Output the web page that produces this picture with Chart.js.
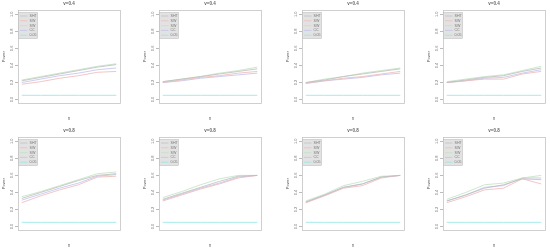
<!DOCTYPE html>
<html><head><meta charset="utf-8">
<script src="https://cdn.jsdelivr.net/npm/chart.js@4"></script>
<style>
html,body{margin:0;padding:0;background:#fff;width:550px;height:249px;overflow:hidden;position:relative}
.p{position:absolute}
</style></head><body>
<script>
// n positions (tick labels not shown in reference)
const nLabels = [1, 2, 3, 4, 5, 6];
const panelTitles = ['v=0.4','v=0.4','v=0.4','v=0.4','v=0.8','v=0.8','v=0.8','v=0.8'];
const seriesNames = ['SHT','SW','SW','CC','0.05'];
const alphaLevel = 0.05;
const yTicks = [0, 0.2, 0.4, 0.6, 0.8, 1.0];

const SHT = [
  [0.22,0.26,0.30,0.34,0.38,0.41],
  [0.21,0.24,0.27,0.30,0.33,0.36],
  [0.20,0.23,0.27,0.30,0.33,0.36],
  [0.20,0.23,0.26,0.28,0.33,0.37],
  [0.33,0.40,0.47,0.54,0.60,0.62],
  [0.32,0.39,0.46,0.53,0.59,0.60],
  [0.29,0.37,0.46,0.50,0.58,0.60],
  [0.30,0.37,0.45,0.49,0.56,0.55]
];
const SW = [
  [0.18,0.21,0.25,0.28,0.32,0.33],
  [0.20,0.23,0.26,0.28,0.31,0.33],
  [0.19,0.22,0.25,0.27,0.30,0.33],
  [0.20,0.22,0.24,0.24,0.30,0.33],
  [0.28,0.36,0.43,0.49,0.58,0.59],
  [0.30,0.37,0.44,0.50,0.57,0.60],
  [0.28,0.36,0.45,0.48,0.57,0.60],
  [0.28,0.35,0.43,0.45,0.56,0.50]
];
const SW2 = [
  [0.23,0.27,0.31,0.35,0.39,0.42],
  [0.21,0.24,0.27,0.31,0.34,0.38],
  [0.20,0.24,0.27,0.31,0.34,0.37],
  [0.21,0.24,0.27,0.29,0.34,0.39],
  [0.35,0.41,0.48,0.55,0.62,0.64],
  [0.34,0.41,0.49,0.56,0.60,0.60],
  [0.30,0.38,0.48,0.53,0.59,0.60],
  [0.32,0.40,0.49,0.51,0.57,0.60]
];
const CC = [
  [0.20,0.24,0.28,0.31,0.35,0.37],
  [0.20,0.22,0.25,0.27,0.29,0.31],
  [0.19,0.22,0.24,0.26,0.29,0.31],
  [0.20,0.22,0.25,0.26,0.31,0.35],
  [0.31,0.38,0.45,0.51,0.59,0.61],
  [0.31,0.38,0.45,0.51,0.58,0.60],
  [0.28,0.37,0.46,0.50,0.58,0.60],
  [0.30,0.37,0.46,0.48,0.57,0.57]
];

const seriesColors = ['#bdbdbd','#efb8b8','#bfe2bf','#c0c0ee','#8fe6e6'];
const boxLeft = [18, 159, 302, 443];
const rowTop = [0, 127];
const BOX_W = 102, BOX_H = 93, PAD_L = 18, PAD_T = 10, PAD_B = 21, PAD_R = 5;

const framePlugin = {
  id: 'frame',
  afterDraw(chart) {
    const {ctx, chartArea: a} = chart;
    ctx.save();
    ctx.strokeStyle = '#c4c4c4';
    ctx.lineWidth = 0.8;
    ctx.strokeRect(a.left + 0.5, a.top + 0.5, a.right - a.left, a.bottom - a.top);
    // title
    ctx.fillStyle = '#666';
    ctx.font = 'bold 4.5px "Liberation Sans", Arial, sans-serif';
    ctx.textAlign = 'center';
    ctx.textBaseline = 'middle';
    ctx.fillText(chart.options.plugins.frame.title, (a.left + a.right) / 2, a.top - 6);
    // legend
    const lx = a.left + 0.5, ly = a.top + 2.5, lw = 19, lh = 26;
    ctx.fillStyle = '#e2e2e2';
    ctx.fillRect(lx, ly, lw, lh);
    ctx.strokeStyle = '#b8b8b8';
    ctx.lineWidth = 0.5;
    ctx.strokeRect(lx, ly, lw, lh);
    ctx.font = '3.6px "Liberation Sans", Arial, sans-serif';
    ctx.textAlign = 'left';
    chart.data.datasets.forEach((ds, i) => {
      const yy = ly + 3.5 + i * 4.8;
      ctx.strokeStyle = ds.borderColor;
      ctx.lineWidth = 0.7;
      ctx.beginPath(); ctx.moveTo(lx + 1.5, yy); ctx.lineTo(lx + 9, yy); ctx.stroke();
      ctx.fillStyle = '#777';
      ctx.fillText(ds.label, lx + 11, yy);
    });
    ctx.restore();
  }
};

for (let p = 0; p < 8; p++) {
  const col = p % 4, row = Math.floor(p / 4);
  const div = document.createElement('div');
  div.className = 'p';
  const W = PAD_L + BOX_W + PAD_R, H = PAD_T + BOX_H + PAD_B;
  div.style.left = (boxLeft[col] - PAD_L) + 'px';
  div.style.top = rowTop[row] + 'px';
  div.style.width = W + 'px';
  div.style.height = H + 'px';
  const cv = document.createElement('canvas');
  div.appendChild(cv);
  document.body.appendChild(div);

  const series = [SHT[p], SW[p], SW2[p], CC[p], nLabels.map(() => alphaLevel)];
  const datasets = series.map((vals, i) => ({
    label: seriesNames[i],
    data: vals.map((v, k) => ({x: nLabels[k], y: v})),
    borderColor: seriesColors[i],
    borderWidth: 0.8,
    pointRadius: 0,
    tension: 0,
    fill: false
  }));

  new Chart(cv, {
    type: 'line',
    data: {datasets},
    options: {
      responsive: true,
      maintainAspectRatio: false,
      animation: false,
      devicePixelRatio: 1,
      layout: {padding: {top: PAD_T, right: PAD_R, left: 0, bottom: 0}},
      plugins: {legend: {display: false}, tooltip: {enabled: false}, frame: {title: panelTitles[p]}},
      scales: {
        x: {
          type: 'linear',
          min: nLabels[0] - 0.2,
          max: nLabels[nLabels.length - 1] + 0.2,
          grid: {display: false},
          border: {display: false},
          ticks: {display: false},
          title: {display: true, text: 'n', font: {size: 4.5, family: 'Liberation Sans'}, color: '#666', padding: {top: 0, bottom: 3}},
          afterFit(s) { s.height = PAD_B; }
        },
        y: {
          min: -0.04,
          max: 1.05,
          afterBuildTicks(s) { s.ticks = yTicks.map(v => ({value: v})); },
          grid: {drawOnChartArea: false, drawTicks: true, tickLength: 3, color: '#bbb'},
          border: {display: false},
          ticks: {
            minRotation: 90, maxRotation: 90, crossAlign: 'center', padding: 0.5,
            font: {size: 4, family: 'Liberation Sans'}, color: '#777',
            callback: v => v.toFixed(1)
          },
          title: {display: true, text: 'Power', font: {size: 4, family: 'Liberation Sans'}, color: '#666', padding: {top: 1, bottom: 0}},
          afterFit(s) { s.width = PAD_L; }
        }
      }
    },
    plugins: [framePlugin]
  });
}
</script>
</body></html>
